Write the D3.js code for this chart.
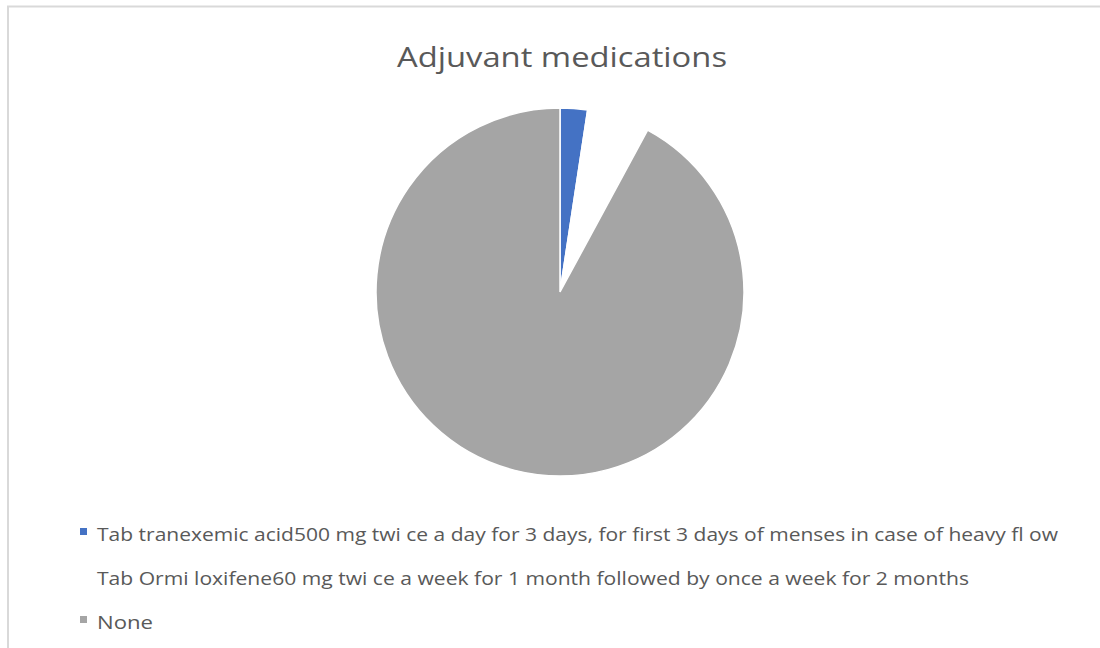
<!DOCTYPE html>
<html>
<head>
<meta charset="utf-8">
<script src="https://cdn.jsdelivr.net/npm/d3@7"></script>
<style>
  body { margin: 0; background: #fff; }
  svg text { font-family: "Open Sans", "Noto Sans", sans-serif; fill: #595959; }
</style>
</head>
<body>
<div id="chart"></div>
<script>
// values (share of patients, %)
var categories = [
  "Tab tranexemic acid500 mg twi ce a day for 3 days, for first 3 days of menses in case of heavy fl ow",
  "Tab Ormi loxifene60 mg twi ce a week for 1 month followed by once a week for 2 months",
  "None"
];
var values = [2.4, 5.5, 92.1];
var colors = ["#4472C4", "#FFFFFF", "#A5A5A5"];
var title = "Adjuvant medications";

var svgWidth = 1100;
var svgHeight = 648;

var svg = d3.select("#chart")
  .append("svg")
  .attr("width", svgWidth)
  .attr("height", svgHeight);

// chart frame (runs past the right/bottom edge like the picture)
svg.append("rect")
  .attr("x", 8)
  .attr("y", 6.5)
  .attr("width", 1200)
  .attr("height", 800)
  .attr("fill", "none")
  .attr("stroke", "#D9D9D9")
  .attr("stroke-width", 2);

// title
svg.append("text")
  .attr("x", 562)
  .attr("y", 67)
  .attr("text-anchor", "middle")
  .style("font-size", "28px")
  .attr("textLength", 330)
  .attr("lengthAdjust", "spacingAndGlyphs")
  .text(title);

// pie
var data = categories.map(function (c, i) {
  return { name: c, value: values[i], color: colors[i] };
});

var pie = d3.pie()
  .value(function (d) { return d.value; })
  .sort(null);

var arc = d3.arc()
  .innerRadius(0)
  .outerRadius(184);

var pieGroup = svg.append("g")
  .attr("transform", "translate(560, 292)");

pieGroup.selectAll("path")
  .data(pie(data))
  .enter()
  .append("path")
  .attr("d", arc)
  .attr("fill", function (d) { return d.data.color; })
  .attr("stroke", "#fff")
  .attr("stroke-width", 1.5);

// legend
var legendY = d3.scalePoint()
  .domain(categories)
  .range([535, 623]);

var textWidths = [961, 872, 56];

var legend = svg.append("g");

var items = legend.selectAll("g")
  .data(data)
  .enter()
  .append("g")
  .attr("transform", function (d) { return "translate(0," + legendY(d.name) + ")"; });

items.append("rect")
  .attr("x", 80)
  .attr("y", -7)
  .attr("width", 7)
  .attr("height", 7)
  .attr("fill", function (d) { return d.color; });

items.append("text")
  .attr("x", 97)
  .attr("y", 6)
  .style("font-size", "18px")
  .attr("textLength", function (d, i) { return textWidths[i]; })
  .attr("lengthAdjust", "spacingAndGlyphs")
  .text(function (d) { return d.name; });
</script>
</body>
</html>
